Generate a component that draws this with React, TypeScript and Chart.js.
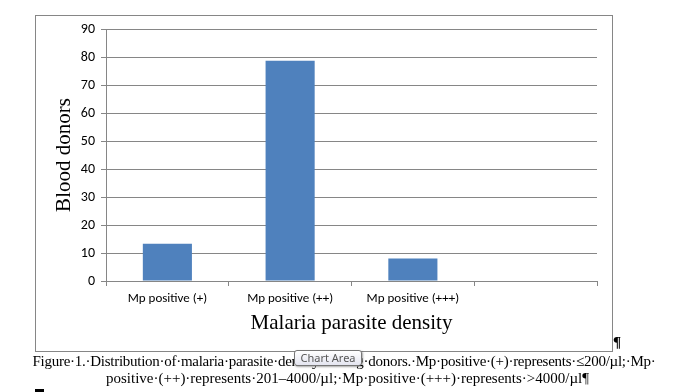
import React, { useEffect, useRef } from "react";
import { Chart, registerables } from "chart.js";

Chart.register(...registerables);

const categories = ["Mp positive (+)", "Mp positive (++)", "Mp positive (+++)", ""];
const donors = [13.3, 78.7, 8.0, null];
const yTitle = "Blood donors";
const xTitle = "Malaria parasite density";
const yMin = 0;
const yMax = 90;
const yStep = 10;
const captionLine1 = "Figure·1.·Distribution·of·malaria·parasite·density·among·donors.·Mp·positive·(+)·represents·≤200/µl;·Mp·";
const captionLine2 = "positive·(++)·represents·201–4000/µl;·Mp·positive·(+++)·represents·>4000/µl¶";

const GRID = "#868686";
const BAR = "#4F81BD";
const TICK_FONT = "Calibri, Carlito, Lato, sans-serif";
const SERIF = "'Liberation Serif', 'Times New Roman', serif";

export default function App() {
  const ref = useRef<HTMLCanvasElement | null>(null);

  useEffect(() => {
    if (!ref.current) return;
    const chart = new Chart(ref.current, {
      type: "bar",
      data: {
        labels: categories,
        datasets: [
          {
            data: donors as any,
            backgroundColor: BAR,
            borderWidth: 0,
            barPercentage: 0.4,
            categoryPercentage: 1.0,
          },
        ],
      },
      options: {
        animation: false,
        responsive: false,
        maintainAspectRatio: false,
        devicePixelRatio: 1,
        layout: { padding: { left: 36, top: 29, right: 99, bottom: 41 } },
        plugins: { legend: { display: false }, tooltip: { enabled: false } },
        scales: {
          x: {
            offset: true,
            grid: {
              display: true,
              drawOnChartArea: false,
              drawTicks: true,
              tickLength: 5,
              offset: true,
              color: GRID,
            },
            border: { color: GRID },
            ticks: {
              color: "#000",
              font: { family: TICK_FONT, size: 13 },
              padding: 5,
              maxRotation: 0,
              autoSkip: false,
            },
            title: {
              display: true,
              text: xTitle,
              color: "#000",
              font: { family: SERIF, size: 21 },
              padding: { top: 0, bottom: 15 },
            },
            afterFit: (s: any) => {
              s.height = 70;
            },
          },
          y: {
            min: yMin,
            max: yMax,
            grid: { color: GRID, tickLength: 5 },
            border: { color: GRID },
            ticks: {
              stepSize: yStep,
              color: "#000",
              font: { family: TICK_FONT, size: 14 },
              padding: 6,
            },
            title: {
              display: true,
              text: yTitle,
              color: "#000",
              font: { family: SERIF, size: 21 },
              padding: { top: 16, bottom: 0 },
            },
            afterFit: (s: any) => {
              s.width = 70;
            },
          },
        },
      },
    });
    return () => chart.destroy();
  }, []);

  return (
    <div style={{ position: "absolute", left: 0, top: 0, width: 696, height: 392, background: "#fff", overflow: "hidden" }}>
      <div
        style={{
          position: "absolute",
          left: 35,
          top: 15,
          width: 578,
          height: 337,
          boxSizing: "border-box",
          border: "1px solid " + GRID,
        }}
      />
      <canvas ref={ref} width={696} height={392} style={{ position: "absolute", left: 0, top: 0, width: 696, height: 392 }} />
      <div
        style={{
          position: "absolute",
          left: 613,
          top: 334,
          fontFamily: SERIF,
          fontSize: 15,
          fontWeight: "bold",
          lineHeight: "17px",
          color: "#000",
        }}
      >
        ¶
      </div>
      <div
        style={{
          position: "absolute",
          left: 0,
          width: 688,
          top: 353,
          textAlign: "center",
          whiteSpace: "nowrap",
          fontFamily: SERIF,
          fontSize: 15,
          lineHeight: "17px",
          letterSpacing: "-0.27px",
          color: "#000",
        }}
      >
        {captionLine1}
      </div>
      <div
        style={{
          position: "absolute",
          left: 0,
          width: 695,
          top: 370,
          textAlign: "center",
          whiteSpace: "nowrap",
          fontFamily: SERIF,
          fontSize: 15,
          lineHeight: "17px",
          letterSpacing: "0px",
          color: "#000",
        }}
      >
        {captionLine2}
      </div>
      <div
        style={{
          position: "absolute",
          left: 294,
          top: 350,
          width: 68,
          height: 16,
          boxSizing: "border-box",
          border: "1px solid #767676",
          borderRadius: 3,
          background: "linear-gradient(#ffffff, #e4e5f0)",
          boxShadow: "1px 1px 2px rgba(0,0,0,0.35)",
          fontFamily: "'Noto Sans', 'DejaVu Sans', sans-serif",
          fontSize: 11,
          lineHeight: "14px",
          color: "#575757",
          textAlign: "center",
          whiteSpace: "nowrap",
        }}
      >
        Chart Area
      </div>
      <div style={{ position: "absolute", left: 35, top: 389, width: 9, height: 3, background: "#000" }} />
    </div>
  );
}
